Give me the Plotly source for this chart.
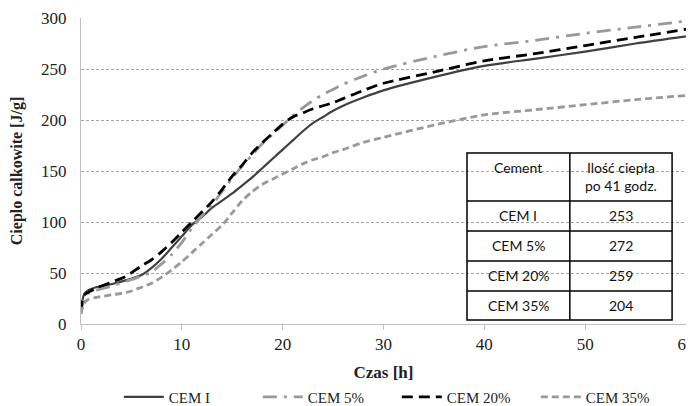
import plotly.graph_objects as go

# time [h]
t = [0, 0.3, 0.7, 1.5, 3, 4.5, 6, 7, 8, 9, 10, 11, 12, 13, 14, 15, 16, 17, 18, 19,
     20, 21, 22, 23, 24, 25, 26, 28, 30, 35, 40, 45, 50, 55, 60]

cem_i = [12, 29, 33, 36, 39, 43, 48, 55, 64, 75, 86, 97, 105, 114, 121, 128, 136, 144, 153, 162,
         171, 180, 189, 197, 203, 209, 214, 222, 229, 242, 253, 260, 267, 275, 282]
cem_5 = [10, 25, 30, 33, 37, 42, 47, 51, 59, 68, 80, 94, 106, 117, 130, 143, 155, 166, 177, 186,
         195, 204, 212, 219, 225, 230, 235, 243, 250, 262, 272, 278, 285, 291, 297]
cem_20 = [12, 28, 31, 35, 41, 47, 57, 63, 71, 80, 90, 100, 110, 120, 132, 145, 156, 168, 178, 187,
          196, 203, 207, 211, 214, 217, 221, 229, 236, 247, 258, 265, 273, 281, 289]
cem_35 = [10, 20, 24, 26, 28.5, 31, 36, 40, 46, 53, 61, 70, 79, 88, 97, 109, 121, 130, 137, 142,
          147, 152, 157, 161, 164, 168, 171, 178, 183, 195, 205, 210, 215, 220, 224]

series_names = ["CEM I", "CEM 5%", "CEM 20%", "CEM 35%"]

table_header = ["Cement", "Ilość ciepła<br>po 41 godz."]
table_rows = ["CEM I", "CEM 5%", "CEM 20%", "CEM 35%"]
table_vals = [253, 272, 259, 204]

x_ticks = [0, 10, 20, 30, 40, 50, 60]
y_ticks = [0, 50, 100, 150, 200, 250, 300]

fig = go.Figure()
styles = [
    dict(color="#404040", width=2.2, dash="solid"),
    dict(color="#999999", width=2.8, dash="14px,7px,3px,7px"),
    dict(color="#000000", width=2.8, dash="11px,6px"),
    dict(color="#999999", width=2.8, dash="7px,4px"),
]
for name, ys, st in zip(series_names, [cem_i, cem_5, cem_20, cem_35], styles):
    fig.add_trace(go.Scatter(x=t, y=ys, name=name, mode="lines",
                             line=dict(shape="spline", smoothing=0.8, **st)))

serif = "Times New Roman"
tickf = dict(family=serif, size=17, color="#222")
fig.update_layout(
    width=686, height=398,
    margin=dict(l=73, r=8, t=10, b=82, autoexpand=False),
    font=dict(family=serif, color="#222", size=17),
    plot_bgcolor="white", paper_bgcolor="white",
    showlegend=True,
    legend=dict(orientation="h", x=0.522, xanchor="center", y=-0.239, yanchor="middle",
                font=dict(family=serif, size=15, color="#222"),
                entrywidth=84, entrywidthmode="pixels", itemwidth=40),
    xaxis=dict(range=[0, 60], tickvals=x_ticks,
               showgrid=False, zeroline=False,
               automargin=False, ticklabeloverflow="allow",
               showline=True, linecolor="#bfbfbf", linewidth=1,
               ticks="outside", ticklen=5, tickcolor="#bfbfbf",
               tickfont=tickf,
               title=dict(text="<b>Czas [h]</b>", font=dict(family=serif, size=17, color="#222"),
                          standoff=12)),
    yaxis=dict(range=[0, 300], tickvals=y_ticks, showgrid=True, gridcolor="#a6a6a6",
               griddash="3px,2px", gridwidth=1, zeroline=False, automargin=False,
               showline=True, linecolor="#bfbfbf", linewidth=1, ticks="",
               ticklabelstandoff=10,
               tickfont=tickf,
               title=dict(text="<b>Cieplo calkowite [J/g]</b>",
                          font=dict(family=serif, size=16, color="#222"), standoff=20)),
)

# table drawn in paper coordinates of the plot area
xl, xm, xr = 0.638, 0.808, 0.977
row_y = [0.559, 0.402, 0.304, 0.206, 0.108, 0.013]
line = dict(color="black", width=1.5)
fig.add_shape(type="rect", xref="paper", yref="paper", x0=xl, x1=xr, y0=row_y[-1], y1=row_y[0], line=line)
fig.add_shape(type="line", xref="paper", yref="paper", x0=xm, x1=xm, y0=row_y[-1], y1=row_y[0], line=line)
for yy in row_y[1:-1]:
    fig.add_shape(type="line", xref="paper", yref="paper", x0=xl, x1=xr, y0=yy, y1=yy, line=line)

tfont = dict(family="Lato", size=14, color="#111")
fig.add_annotation(xref="paper", yref="paper", x=(xl + xm) / 2, y=row_y[0] - 0.012,
                   xanchor="center", yanchor="top",
                   text=table_header[0], showarrow=False, font=tfont)
fig.add_annotation(xref="paper", yref="paper", x=(xm + xr) / 2, y=row_y[0] - 0.012,
                   xanchor="center", yanchor="top",
                   text=table_header[1], showarrow=False, font=tfont)
for i, (r, v) in enumerate(zip(table_rows, table_vals)):
    yc = (row_y[i + 1] + row_y[i + 2]) / 2
    fig.add_annotation(xref="paper", yref="paper", x=(xl + xm) / 2, y=yc, text=r,
                       xanchor="center", yanchor="middle", showarrow=False, font=tfont)
    fig.add_annotation(xref="paper", yref="paper", x=(xm + xr) / 2, y=yc, text=str(v),
                       xanchor="center", yanchor="middle", showarrow=False, font=tfont)

fig.write_html("out.html")
